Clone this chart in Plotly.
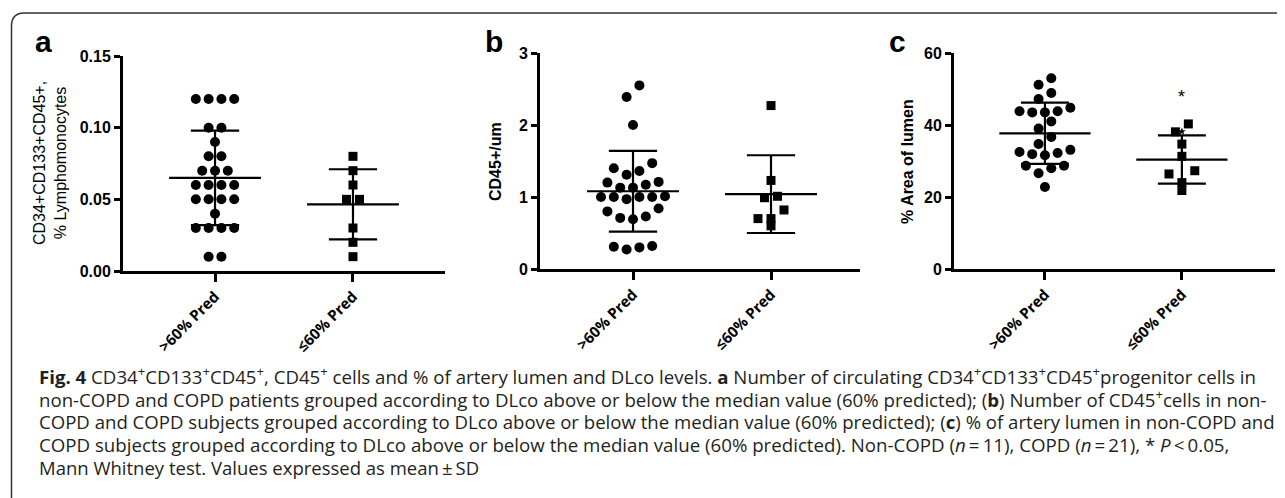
import plotly.graph_objects as go

W, H = 1285, 498

# ---------------- data ----------------
categories = [">60% Pred", "≤60% Pred"]

a_hi = [0.12, 0.12, 0.12, 0.12, 0.10, 0.10, 0.09, 0.08, 0.08, 0.07, 0.07, 0.07,
        0.06, 0.06, 0.06, 0.06, 0.05, 0.05, 0.05, 0.05, 0.04, 0.03, 0.03, 0.03,
        0.03, 0.01, 0.01]
a_lo = [0.08, 0.07, 0.06, 0.05, 0.05, 0.03, 0.02, 0.01]
a_mean = [0.065, 0.0465]
a_sd = [0.033, 0.0245]

b_hi = [2.55, 2.39, 2.00, 1.47, 1.40, 1.36, 1.31, 1.21, 1.20, 1.17, 1.13, 1.13,
        1.01, 1.00, 1.00, 1.00, 1.00, 0.97, 0.84, 0.80, 0.73, 0.71, 0.69, 0.32,
        0.31, 0.30, 0.27]
b_lo = [2.27, 1.23, 1.01, 0.99, 0.82, 0.70, 0.70, 0.60]
b_mean = [1.08, 1.04]
b_sd = [0.56, 0.54]

c_hi = [53.0, 51.2, 48.9, 47.2, 44.8, 43.8, 43.8, 43.5, 43.5, 41.0, 39.0, 36.7,
        34.7, 33.1, 32.5, 32.2, 31.9, 31.6, 28.7, 28.7, 28.0, 26.6, 22.8]
c_lo = [40.3, 38.1, 34.7, 31.3, 27.3, 26.4, 24.0, 21.8]
c_mean = [37.7, 30.4]
c_sd = [8.5, 6.7]
c_extra_star = [38.2]
c_signif = 48.5

y_titles = ["CD34+CD133+CD45+,<br>% Lymphomonocytes", "<b>CD45+/um</b>", "<b>% Area of lumen</b>"]
panel_letters = ["a", "b", "c"]

TS = "\u2009"  # thin space, as in the typeset caption
caption_lines = [
    "<b>Fig. 4</b> CD34<sup>+</sup>CD133<sup>+</sup>CD45<sup>+</sup>, CD45<sup>+</sup> cells and % of artery lumen and DLco levels. "
    "<b>a</b> Number of circulating CD34<sup>+</sup>CD133<sup>+</sup>CD45<sup>+</sup>progenitor cells in",
    "non-COPD and COPD patients grouped according to DLco above or below the median value (60% predicted); "
    "(<b>b</b>) Number of CD45<sup>+</sup>cells in non-",
    "COPD and COPD subjects grouped according to DLco above or below the median value (60% predicted); "
    "(<b>c</b>) % of artery lumen in non-COPD and",
    "COPD subjects grouped according to DLco above or below the median value (60% predicted). "
    f"Non-COPD (<i>n</i>{TS}={TS}11), COPD (<i>n</i>{TS}={TS}21), * <i>P</i>{TS}&lt;{TS}0.05,",
    f"Mann Whitney test. Values expressed as mean{TS}±{TS}SD",
]
caption_glyph_sizes = [18.65, 18.65, 18.6, 18.7, 18.5]
CAPTION_LINE_FONT = 17.5  # sets the line pitch (1.3 em)

# ---------------- layout helpers ----------------
OFF = 8  # the page shows the figure 8 px in from the top-left corner

def fx(px):
    return (px - OFF) / W

def fy(py):
    return 1 - (py - OFF) / H

X_PX_PER_UNIT = 138.0


def swarm(vals, y_px_per_unit, spacing_px, row_px=12.0):
    """Prism-like row swarm: group near values into rows, center each row."""
    n = len(vals)
    order = sorted(range(n), key=lambda i: -vals[i])
    rows, cur = [], [order[0]]
    for i in order[1:]:
        if (vals[cur[0]] - vals[i]) * y_px_per_unit < row_px:
            cur.append(i)
        else:
            rows.append(cur)
            cur = [i]
    rows.append(cur)
    off = [0.0] * n
    for row in rows:
        rs = sorted(row, key=lambda i: vals[i])
        m = len(rs)
        slots = []
        if m % 2 == 1:
            slots.append(0.0)
            k = 1
            while len(slots) < m:
                slots += [-k, k]
                k += 1
        else:
            k = 0.5
            while len(slots) < m:
                slots += [-k, k]
                k += 1
        for i, s in zip(rs, slots):
            off[i] = s * spacing_px / X_PX_PER_UNIT
    return off


panels = [
    dict(hi=a_hi, lo=a_lo, mean=a_mean, sd=a_sd, rng=[0, 0.15], dtick=0.05, fmt=".2f",
         xd=(123, 445), yd=(271, 56), xr=[-0.667, 1.667]),
    dict(hi=b_hi, lo=b_lo, mean=b_mean, sd=b_sd, rng=[0, 3], dtick=1, fmt="d",
         xd=(540, 860), yd=(269, 53), xr=[-0.674, 1.645]),
    dict(hi=c_hi, lo=c_lo, mean=c_mean, sd=c_sd, rng=[0, 60], dtick=20, fmt="d",
         xd=(954, 1275), yd=(269, 53), xr=[-0.664, 1.68]),
]

fig = go.Figure()

for k, p in enumerate(panels):
    xa = "x" if k == 0 else f"x{k+1}"
    ya = "y" if k == 0 else f"y{k+1}"
    ypp = (p["yd"][0] - p["yd"][1]) / (p["rng"][1] - p["rng"][0])
    off_hi = swarm(p["hi"], ypp, 12.8)
    off_lo = swarm(p["lo"], ypp, 13.0)
    fig.add_trace(go.Scatter(
        x=[0 + o for o in off_hi], y=p["hi"], mode="markers", xaxis=xa, yaxis=ya,
        marker=dict(symbol="circle", size=10, color="black"), showlegend=False, hoverinfo="skip"))
    fig.add_trace(go.Scatter(
        x=[1 + o for o in off_lo], y=p["lo"], mode="markers", xaxis=xa, yaxis=ya,
        marker=dict(symbol="square", size=9, color="black"), showlegend=False, hoverinfo="skip"))
    # mean +/- SD
    lx, ly = [], []
    for ci, (m, s) in enumerate(zip(p["mean"], p["sd"])):
        lx += [ci - 0.333, ci + 0.333, None, ci, ci, None,
               ci - 0.175, ci + 0.175, None, ci - 0.175, ci + 0.175, None]
        ly += [m, m, None, m - s, m + s, None, m + s, m + s, None, m - s, m - s, None]
    fig.add_trace(go.Scatter(x=lx, y=ly, mode="lines", xaxis=xa, yaxis=ya,
                             line=dict(color="black", width=2.2), showlegend=False,
                             hoverinfo="skip", cliponaxis=False))
    axkey_x = "xaxis" if k == 0 else f"xaxis{k+1}"
    axkey_y = "yaxis" if k == 0 else f"yaxis{k+1}"
    fig.layout[axkey_x] = dict(
        domain=[fx(p["xd"][0]), fx(p["xd"][1])], range=p["xr"], anchor=ya,
        showline=True, linewidth=3, linecolor="black", showgrid=False, zeroline=False,
        ticks="outside", ticklen=8, tickwidth=2.5, tickcolor="black",
        tickvals=[0, 1], ticktext=categories, tickangle=-45,
        tickfont=dict(family="Open Sans", size=15, color="black", weight="bold"))
    fig.layout[axkey_y] = dict(
        domain=[fy(p["yd"][0]), fy(p["yd"][1])], range=p["rng"], anchor=xa,
        showline=True, linewidth=3, linecolor="black", showgrid=False, zeroline=False,
        ticks="outside", ticklen=6, tickwidth=2.5, tickcolor="black",
        dtick=p["dtick"], tickformat=p["fmt"],
        tickfont=dict(family="Liberation Sans", size=16, color="black", weight="bold"))

# extra marks in panel c
fig.add_trace(go.Scatter(x=[1.0], y=c_extra_star, mode="markers", xaxis="x3", yaxis="y3",
                         marker=dict(symbol="star", size=6, color="black"),
                         showlegend=False, hoverinfo="skip"))
fig.add_annotation(x=1.0, y=c_signif, xref="x3", yref="y3", text="*", showarrow=False,
                   yshift=-3, font=dict(family="Liberation Sans", size=18, color="black"))

annotations = []
# panel letters
for letter, xc in zip(panel_letters, [43, 494, 897]):
    annotations.append(dict(x=fx(xc), y=fy(42), xref="paper", yref="paper", text=f"<b>{letter}</b>",
                            showarrow=False, xanchor="center", yanchor="middle",
                            font=dict(family="Liberation Sans", size=30, color="black")))
# y titles
for t, (xc, yc) in zip(y_titles, [(50, 163), (495, 162), (907, 162)]):
    annotations.append(dict(x=fx(xc), y=fy(yc), xref="paper", yref="paper", text=t,
                            textangle=-90, showarrow=False, xanchor="center", yanchor="middle",
                            font=dict(family="Liberation Sans", size=16, color="black")))
# caption
caption_text = "<br>".join(
    f'<span style="font-size:{sz}px">{line}</span>'
    for line, sz in zip(caption_lines, caption_glyph_sizes))
annotations.append(dict(x=fx(37), y=fy(359.5), xref="paper", yref="paper",
                        text=caption_text, align="left", showarrow=False,
                        xanchor="left", yanchor="top",
                        font=dict(family="Open Sans", size=CAPTION_LINE_FONT, color="#231f20")))
for a in annotations:
    fig.add_annotation(**a)

# surrounding frame (rounded top-left corner, open to the right/bottom)
def P(x, y):
    return f"{fx(x):.5f},{fy(y):.5f}"

frame = f"M {P(11.5, 520)} L {P(11.5, 26)} Q {P(11.5, 13)} {P(24.5, 13)} L {P(1300, 13)}"
fig.add_shape(type="path", path=frame, xref="paper", yref="paper",
              line=dict(color="#333333", width=1.5))

fig.update_layout(width=W, height=H, margin=dict(l=0, r=0, t=0, b=0, pad=0, autoexpand=False),
                  paper_bgcolor="white", plot_bgcolor="white", showlegend=False)

fig.write_html("out.html")
